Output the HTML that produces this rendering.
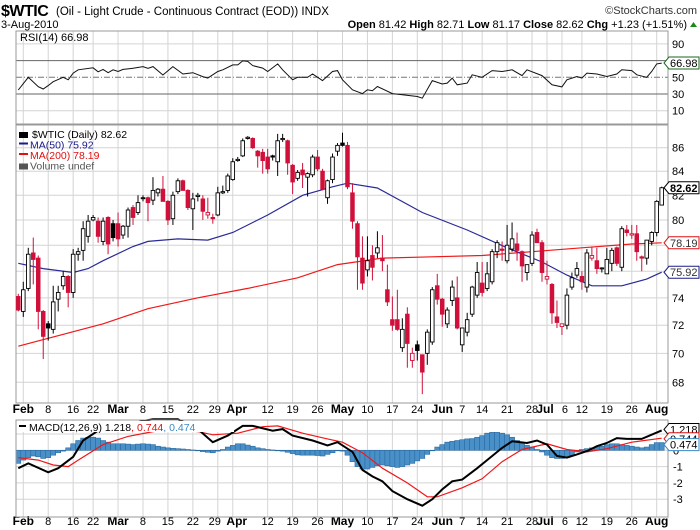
<!DOCTYPE html>
<html><head><meta charset="utf-8"><style>
html,body{margin:0;padding:0;background:#fff;}
svg{display:block;font-family:"Liberation Sans",sans-serif;}
</style></head><body>
<svg id="chart" width="700" height="530" viewBox="0 0 700 530" xmlns="http://www.w3.org/2000/svg">
<rect x="0" y="0" width="700" height="530" fill="#fff"/>
<g>
<text x="1" y="16" font-size="16" font-weight="bold" letter-spacing="-0.5">$WTIC</text>
<text x="56" y="15" font-size="11.5">(Oil - Light Crude - Continuous Contract (EOD))  INDX</text>
<text x="697" y="14" font-size="11" text-anchor="end" fill="#333">©StockCharts.com</text>
<text x="1" y="28" font-size="11">3-Aug-2010</text>
<text x="687" y="28" font-size="11" text-anchor="end"><tspan font-weight="bold">Open</tspan> 81.42 <tspan font-weight="bold">High</tspan> 82.71 <tspan font-weight="bold">Low</tspan> 81.17 <tspan font-weight="bold">Close</tspan> 82.62 <tspan font-weight="bold">Chg</tspan> +1.23 (+1.51%)</text>
<polygon points="690,27 697,27 693.5,22" fill="#1a8a1a"/>
</g>
<g id="rsiG"></g>
<g id="priceG"></g>
<g id="xaxisG"></g>
<g id="macdG"></g>
</svg>
<script>
// ---------- data ----------
const opens=[74.1,73.0,74.7,77.4,77.0,73.0,72.1,71.7,73.9,74.9,75.6,74.4,77.3,77.6,78.7,80.0,79.9,78.3,80.2,79.7,79.7,78.8,79.5,81.0,80.6,81.8,81.8,81.6,82.2,82.5,81.5,80.1,82.3,83.2,82.4,80.9,81.9,81.7,80.4,80.2,80.4,82.2,82.4,83.3,84.9,85.3,86.8,86.8,85.7,85.6,85.2,85.3,84.8,86.7,86.6,84.5,83.4,84.1,83.5,83.7,85.2,84.0,81.8,83.3,85.7,86.4,86.2,82.2,79.7,77.0,76.1,77.2,77.4,77.0,74.6,72.4,72.4,70.4,72.8,69.5,70.6,69.9,70.0,70.8,74.9,73.9,72.1,73.8,74.0,70.6,71.5,72.8,74.2,75.1,74.7,75.2,77.5,77.7,76.8,77.7,78.1,77.5,75.9,76.6,79.0,78.2,75.4,75.0,72.6,71.9,72.0,74.8,75.7,75.6,74.8,77.0,76.8,76.2,75.8,76.6,77.8,76.3,79.2,78.8,78.9,77.1,77.0,78.3,79.0,81.2];
const highs=[74.3,75.2,77.8,78.6,77.2,73.1,72.3,74.9,74.9,76.0,75.7,77.7,77.8,79.9,80.4,80.4,80.2,80.2,80.3,80.0,80.6,79.6,81.0,81.2,82.0,82.0,81.9,83.5,82.6,83.6,81.6,82.3,83.4,83.3,82.5,82.2,82.2,82.0,81.8,80.5,82.7,82.8,83.8,85.1,85.2,86.8,87.0,86.9,85.8,85.9,85.9,85.4,87.2,87.2,86.7,84.6,84.1,84.7,83.9,85.4,85.8,84.2,83.3,85.5,86.4,87.3,86.5,83.0,79.9,78.7,78.7,78.0,79.1,78.8,76.5,74.1,74.6,72.5,73.3,70.4,70.9,69.9,71.7,74.8,75.8,74.0,73.3,75.3,75.6,71.8,72.9,74.9,76.7,76.7,76.7,77.7,78.4,78.3,79.6,79.8,79.0,77.6,76.5,79.1,79.3,78.4,76.8,75.1,73.8,72.1,74.7,75.9,76.7,76.0,77.7,77.9,77.8,76.3,77.8,77.8,77.9,79.5,79.6,79.6,79.6,77.2,78.4,79.1,81.6,82.71];
const lows=[73.0,72.6,74.5,75.0,71.7,69.6,70.9,71.4,73.0,74.6,73.3,74.0,76.8,76.8,78.2,79.9,78.2,78.0,77.3,78.3,77.9,78.5,78.6,79.6,80.4,81.5,79.9,81.2,81.9,81.5,79.6,79.6,82.1,82.4,80.8,79.2,81.5,80.0,80.1,79.7,80.3,82.1,82.2,83.2,84.8,85.2,86.7,85.9,84.3,83.8,83.8,84.9,83.6,86.5,83.7,82.1,83.2,82.6,81.9,83.5,84.0,82.4,81.3,83.0,85.3,86.1,82.5,79.3,74.6,74.6,75.6,75.3,77.0,76.0,73.4,71.6,71.6,70.1,69.0,69.0,69.5,67.2,69.2,70.6,73.5,71.9,71.8,73.4,71.7,70.1,71.2,72.6,74.0,74.1,74.5,75.0,77.0,76.8,76.6,77.5,76.8,75.2,75.3,76.4,78.6,75.2,75.0,72.1,71.8,71.3,71.7,74.6,75.5,74.6,74.4,76.8,75.8,75.9,75.8,76.0,76.4,76.0,78.7,78.5,76.8,76.0,76.5,78.0,78.7,81.17];
const closes=[73.1,74.6,77.3,76.9,73.0,71.2,71.8,73.7,74.4,75.6,74.4,77.3,77.5,79.3,79.9,80.2,78.7,79.9,78.1,78.6,78.5,79.5,80.8,80.2,81.4,81.8,81.4,82.4,82.5,81.5,80.0,82.0,83.2,82.4,81.0,81.7,82.0,80.7,80.6,80.1,82.2,82.3,83.6,84.8,85.0,86.6,86.9,86.0,85.3,84.9,84.2,85.2,86.6,86.8,84.7,83.1,83.9,83.7,83.8,85.2,84.2,82.5,83.2,85.2,86.2,86.2,82.7,79.9,77.1,75.1,76.8,76.3,77.8,76.8,73.7,72.0,71.7,71.7,70.7,70.0,70.2,68.7,71.5,74.6,73.9,72.8,73.1,74.8,71.8,71.8,72.4,74.8,75.9,74.4,75.8,77.5,78.2,77.6,78.0,78.5,77.6,76.4,76.5,78.8,78.2,75.9,75.6,72.9,72.2,72.1,74.2,75.5,76.2,75.2,77.4,77.2,76.2,76.25,76.9,77.6,76.6,79.3,79.0,78.9,77.5,77.0,78.4,79.0,81.5,82.62];
const ma50Days=[0,5,11,14,17,23,26,32,38,43,50,57,63,66,72,81,90,98,105,110,115,121,126,129];
const ma50Vals=[76.6,76.2,75.9,76.2,76.8,77.9,78.3,78.5,78.4,79.0,80.4,82.0,82.7,83.0,82.6,80.6,79.2,77.8,76.7,75.7,74.9,74.9,75.4,75.92];
const ma200Days=[0,17,26,36,46,56,64,73,83,93,103,113,123,129];
const ma200Vals=[70.5,72.1,73.2,74.0,74.7,75.5,76.5,77.0,77.1,77.2,77.5,77.8,78.1,78.19];
const rsiDays=[0,2,4,5,6,7,9,10,11,12,15,16,17,18,19,20,21,23,25,26,27,29,31,33,35,37,38,40,41,43,44,45,46,47,49,50,52,53,55,56,58,59,61,63,64,65,67,69,70,71,72,75,77,80,81,83,85,86,87,88,90,91,93,95,97,99,101,102,105,107,109,110,112,113,114,116,118,120,121,123,124,126,127,128,129];
const rsiVals=[34.8,50,38.8,36,40,44.7,50,47,55,59,61.4,56.6,59.5,55.5,59,57,59.5,60.8,62.8,60.8,62.8,52.8,62.8,54,55.5,50.8,49,57,59,64.8,64.8,69.6,69,64,61,57,66,59,47,50,50,54,46,57,58,47,35,30.5,35,34,39,30.5,29,27,25,46,42,43,49,41,43,53,50,58,57,59,52,59,52,41,38.5,47,51,49,55,54,51,54,59,58,53,50,57,66,66.98];
const macdDays=[0,2,6,8,11,13,16,19,21,25,27,32,36,39,42,45,47,51,53,55,59,62,64,67,69,71,73,75,78,81,83,85,87,89,92,94,97,99,102,104,106,108,110,112,114,116,118,120,122,125,129];
const macdVals=[-1.1,-0.8,-1.35,-1.1,-0.4,0.6,1.2,1.45,1.5,1.8,1.9,1.9,1.3,0.5,0.9,1.5,1.5,1.2,1.3,0.9,0.6,0.3,0.5,-0.1,-1.2,-1.6,-1.9,-2.5,-3.0,-3.4,-3.0,-2.4,-1.9,-1.8,-1.1,-0.6,0.15,0.55,0.45,0.6,0.35,-0.35,-0.45,-0.25,-0.05,0.25,0.45,0.75,0.7,0.7,1.218];
const signalDays=[0,4,7,10,12,17,22,27,31,36,39,44,49,52,57,62,65,69,73,78,82,84,89,93,97,101,106,110,114,118,123,129];
const signalVals=[-0.45,-0.6,-0.9,-1.0,-0.6,0.35,0.85,1.15,1.3,1.15,0.95,1.05,1.45,1.5,1.05,0.7,0.5,-0.15,-1.1,-2.0,-2.85,-2.85,-2.3,-1.75,-0.7,0.05,0.4,0.05,-0.1,0.1,0.5,0.744];
const histVals=[-0.8,-0.6,-0.45,-0.35,-0.4,-0.5,-0.45,-0.3,-0.15,-0.05,0.15,0.4,0.6,0.75,0.8,0.8,0.75,0.6,0.5,0.4,0.4,0.4,0.38,0.35,0.38,0.4,0.38,0.35,0.25,0.2,0.15,0.12,0.1,0.08,0.05,0.02,-0.02,-0.08,-0.12,-0.15,-0.05,0.05,0.2,0.3,0.4,0.4,0.32,0.25,0.15,0.1,0.05,0.02,0,-0.05,-0.12,-0.2,-0.28,-0.3,-0.3,-0.3,-0.32,-0.35,-0.25,-0.15,0,-0.05,-0.3,-0.7,-1.0,-1.15,-1.15,-1.05,-0.95,-0.9,-0.95,-1.0,-1.05,-1.0,-0.9,-0.8,-0.65,-0.5,-0.25,0,0.2,0.35,0.5,0.55,0.6,0.65,0.7,0.72,0.8,0.9,1.05,1.1,1.1,1.05,0.95,0.8,0.6,0.45,0.3,0.2,0.05,-0.1,-0.3,-0.45,-0.5,-0.5,-0.45,-0.3,-0.1,0.05,0.1,0.15,0.2,0.25,0.35,0.4,0.4,0.35,0.3,0.25,0.2,0.15,0.2,0.35,0.47,0.474];
const priceTicks=[68,70,72,74,76,78,80,82,84,86];
const rsiTicks=[10,30,50,70,90];
const macdTicks=[0,-1,-2,-3];
const xTickDays=[1,6,11,15,20,25,30,35,40,43,50,55,60,65,70,75,80,85,89,93,98,103,106,109,113,118,123,128];
const xTickLabels=["Feb","8","16","22","Mar","8","15","22","29","Apr","12","19","26","May","10","17","24","Jun","7","14","21","28","Jul","6","12","19","26","Aug"];
const boldLabels=["Feb","Mar","Apr","May","Jun","Jul","Aug"];

// ---------- geometry ----------
const NS="http://www.w3.org/2000/svg";
const L=16,R=668;
const N=closes.length;
const xD=i=>18.3+i*(661.7-18.3)/(N-1);
const yP=v=>147.7+999*Math.log(86/v);
const yR=v=>77.3-(v-50)*0.835;
const yM=v=>450.3-v*16.3;
function mk(parent,tag,attrs,txt){const e=document.createElementNS(NS,tag);for(const k in attrs)e.setAttribute(k,attrs[k]);if(txt!==undefined)e.textContent=txt;parent.appendChild(e);return e;}
const rsiG=document.getElementById('rsiG'),priceG=document.getElementById('priceG'),xaxisG=document.getElementById('xaxisG'),macdG=document.getElementById('macdG');
const GRID="#d4d4d4";

function vgrid(g,y0,y1){xTickDays.forEach(d=>{const l=mk(g,'line',{x1:xD(d),x2:xD(d),y1:y0,y2:y1,stroke:GRID,'stroke-width':1});

});}
function pathFrom(days,vals,fy){return days.map((d,k)=>(k?'L':'M')+xD(d).toFixed(1)+','+fy(vals[k]).toFixed(1)).join('');}

// ---------- RSI ----------
vgrid(rsiG,31,124);
rsiTicks.forEach(t=>{
 const style=t===50?{stroke:'#777','stroke-dasharray':'6,2,1,2'}:(t===30||t===70)?{stroke:'#666'}:{stroke:GRID};
 const l=mk(rsiG,'line',Object.assign({x1:L,x2:R,y1:yR(t),y2:yR(t),'stroke-width':1},style));
 
 
 const tx=mk(rsiG,'text',{x:672,y:yR(t)+4,'font-size':11},String(t));
 
 
});
const rsiFrame=mk(rsiG,'rect',{x:L,y:31,width:R-L,height:93,fill:'none',stroke:'#999'});


const rsiLine=mk(rsiG,'path',{d:pathFrom(rsiDays,rsiVals,yR),fill:'none',stroke:'#111','stroke-width':1});


const rsiLeg=mk(rsiG,'text',{x:20,y:41,'font-size':11},'RSI(14) 66.98');


const rsiTag=mk(rsiG,'path',{d:'M664,63 l5,-6 h30 v12 h-30 z',fill:'#fff',stroke:'#1a6a1a'});


const rsiTagT=mk(rsiG,'text',{x:670,y:67,'font-size':11},'66.98');



// ---------- price ----------
vgrid(priceG,125,403);
priceTicks.forEach(t=>{
 const l=mk(priceG,'line',{x1:L,x2:R,y1:yP(t),y2:yP(t),stroke:GRID,'stroke-width':1});
 
 
 const tx=mk(priceG,'text',{x:672,y:yP(t)+4,'font-size':11},String(t));
 
 
});
const pFrame=mk(priceG,'rect',{x:L,y:125,width:R-L,height:278,fill:'none',stroke:'#999'});


const ma200=mk(priceG,'path',{d:pathFrom(ma200Days,ma200Vals,yP),fill:'none',stroke:'#f01818','stroke-width':1.2});


const ma50=mk(priceG,'path',{d:pathFrom(ma50Days,ma50Vals,yP),fill:'none',stroke:'#2a2a96','stroke-width':1.2});


for(let i=0;i<N;i++){
 const up=i===0?closes[i]>=opens[i]:closes[i]>=closes[i-1];
 const col=up?'#000':'#d0103a';
 const x=xD(i);
 const w=mk(priceG,'line',{x1:x,x2:x,y1:yP(highs[i]),y2:yP(lows[i]),stroke:col,'stroke-width':1});
 
 
 const top=yP(Math.max(opens[i],closes[i])),bot=yP(Math.min(opens[i],closes[i]));
 const filled=closes[i]<opens[i];
 const b=mk(priceG,'rect',{x:x-1.8,y:top,width:3.6,height:Math.max(bot-top,1),fill:filled?col:'#fff',stroke:col,'stroke-width':0.9});
 
 
}
const legendItems=[['$WTIC (Daily) 82.62','#000'],['MA(50) 75.92','#1a1a8a'],['MA(200) 78.19','#e01010'],['Volume undef','#555']];
legendItems.forEach((it,k)=>{
 const y=137+k*10.5;
 const m=mk(priceG,'rect',{x:19,y:y-5,width:9,height:k===0||k===3?6:2,fill:it[1]});
 
 
 const t=mk(priceG,'text',{x:k===0?32:30,y:y+1,'font-size':10.5,fill:it[1]},it[0]);
 
 
});
[[82.62,'#000','82.62',true],[78.19,'#e01010','78.19',false],[75.92,'#1a1a8a','75.92',false]].forEach(tg=>{
 const y=yP(tg[0]);
 const p=mk(priceG,'path',{d:`M664,${y} l5,-6 h30 v12 h-30 z`,fill:'#fff',stroke:tg[1]});
 
 
 const t=mk(priceG,'text',{x:670,y:y+4,'font-size':11,'font-weight':tg[3]?'bold':'normal',fill:tg[3]?'#000':'#333'},tg[2]);
 
 
});

// ---------- x axis labels ----------
[413,525].forEach(yy=>{
 xTickDays.forEach((d,k)=>{
  const lab=xTickLabels[k];const b=boldLabels.includes(lab);
  let x=xD(d);
  if(lab==='29')x-=3; if(lab==='Apr')x+=4; if(lab==='Jul')x-=2; if(lab==='6')x+=3;
  const t=mk(xaxisG,'text',{x:x,y:yy,'font-size':b?12:11,'font-weight':b?'bold':'normal','text-anchor':'middle'},lab);
  
  
 });
});

// ---------- MACD ----------
vgrid(macdG,420,517);
macdTicks.forEach(t=>{
 const l=mk(macdG,'line',{x1:L,x2:R,y1:yM(t),y2:yM(t),stroke:GRID,'stroke-width':1});
 
 
 const tx=mk(macdG,'text',{x:673,y:yM(t)+4,'font-size':11},String(t));
 
 
});
const l1=mk(macdG,'line',{x1:L,x2:R,y1:yM(1),y2:yM(1),stroke:GRID});


histVals.forEach((v,i)=>{
 const y0=yM(0),y1=yM(v);
 const r=mk(macdG,'rect',{x:xD(i)-2.5,y:Math.min(y0,y1),width:5,height:Math.max(Math.abs(y1-y0),0.5),fill:'#4a90c8',stroke:'#2a6aa0','stroke-width':0.6});
 
 
});
const sig=mk(macdG,'path',{d:pathFrom(signalDays,signalVals,yM),fill:'none',stroke:'#f01818','stroke-width':1.2});


const mc=mk(macdG,'path',{d:pathFrom(macdDays,macdVals,yM),fill:'none',stroke:'#000','stroke-width':2});


const mFrame=mk(macdG,'rect',{x:L,y:420,width:R-L,height:97,fill:'none',stroke:'#999'});


const mlegBg=mk(macdG,'rect',{x:17,y:421,width:217,height:11,fill:'#fff'});


const mlm=mk(macdG,'rect',{x:19,y:425,width:7,height:2,fill:'#000'});


const mleg=mk(macdG,'text',{x:29,y:431,'font-size':10.5});


mleg.innerHTML='MACD(12,26,9) 1.218<tspan fill="#e01010">, 0.744</tspan><tspan fill="#3a8ac8">, 0.474</tspan>';
[[1.218,'#000','1.218',-5],[0.744,'#e01010','0.744',3],[0.474,'#3a8ac8','0.474',10]].forEach(tg=>{
 const y=yM(tg[0])+tg[3]*0.2;
 const p=mk(macdG,'path',{d:`M664,${y} l5,-6 h30 v12 h-30 z`,fill:'#fff',stroke:tg[1]});
 
 
 const t=mk(macdG,'text',{x:670,y:y+4,'font-size':11,fill:'#000'},tg[2]);
 
 
});
</script>
</body></html>
